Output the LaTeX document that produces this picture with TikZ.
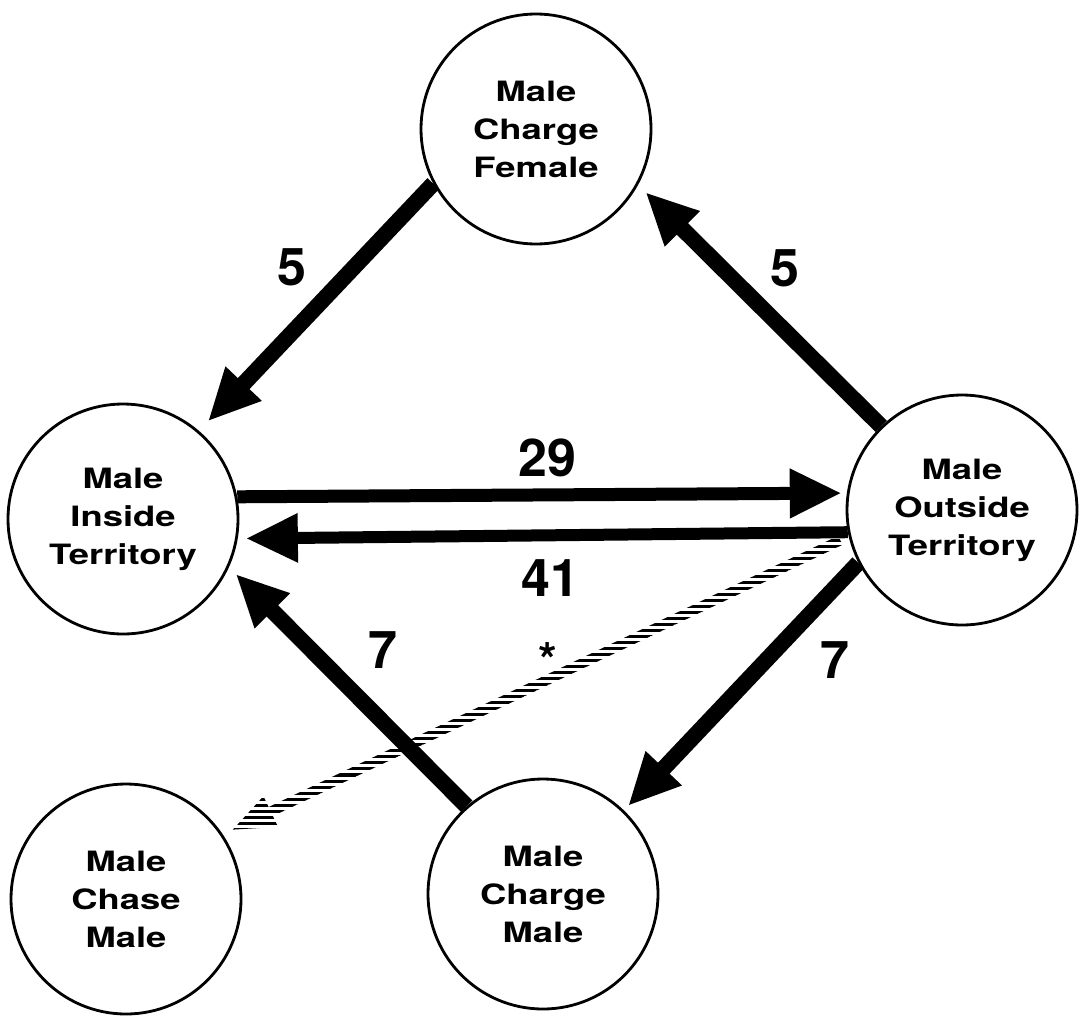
\documentclass[tikz,border=0pt]{standalone}
\usepackage{fontspec}
\setmainfont{TeX Gyre Heros}
\newfontfamily\statefont[FakeStretch=1.3]{TeX Gyre Heros}
\newfontfamily\countfont{TeX Gyre Heros}
\usetikzlibrary{arrows.meta,calc,patterns.meta}

\tikzset{
  state/.style={circle, draw, line width=2.8pt, minimum size=230pt, inner sep=0pt,
    align=center, font=\statefont\bfseries\fontsize{28}{38}\selectfont},
  flow/.style={line width=16pt, -{Triangle[length=52pt,width=46pt]}},
  count/.style={font=\countfont\bfseries\fontsize{52}{52}\selectfont, inner sep=0pt},
  hatch/.style={pattern={Lines[angle=0,distance=6pt,line width=3pt]}, pattern color=black}
}

\begin{document}
\begin{tikzpicture}[x=1pt,y=-1pt]
  \useasboundingbox (0,0) rectangle (1081,1015);

  % behavioural states
  \node[state] (T) at (536,129) {Male\\Charge\\Female};
  \node[state] (L) at (123,519) {Male\\Inside\\Territory};
  \node[state] (R) at (962,510) {Male\\Outside\\Territory};
  \node[state] (B) at (543,894) {Male\\Charge\\Male};
  \node[state] (C) at (126,899) {Male\\Chase\\Male};

  % transitions
  \draw[flow] (T.208.6) -- ($(L.49)!-13pt!(L.center)$);
  \draw[flow] (R.134.7) -- ($(T.330.8)!-10pt!(T.center)$);
  \draw[flow, line width=13pt] (L.11.5) -- ($(R.172.8)!-5pt!(R.center)$);
  \draw[flow, line width=12pt] (R.191.4) -- ($(L.351.6)!-8pt!(L.center)$);
  \draw[flow] (R.207) -- ($(B.46)!-6pt!(B.center)$);
  \draw[flow] (B.131) -- ($(L.334.3)!-9pt!(L.center)$);

  % hatched transition towards chasing
  \coordinate (hs) at ($(R.194)!-9pt!(R.center)$);
  \coordinate (he) at ($(C.33)!-11pt!(C.center)$);
  \coordinate (hh) at ($(he)!42pt!(hs)$);
  \fill[hatch] ($(hs)!5pt!90:(he)$) -- ($(hh)!5pt!90:(he)$) -- ($(hh)!17pt!90:(he)$)
    -- (he) -- ($(hh)!17pt!-90:(he)$) -- ($(hh)!5pt!-90:(he)$)
    -- ($(hs)!5pt!-90:(he)$) -- cycle;

  % transition counts
  \node[count] (n1) at (292,267) {5};
  \node[count] (n2) at (785,268) {5};
  \node[count] (n3) at (547,458) {29};
  \node[count] (n4) at (550,578) {41};
  \node[count] (n5) at (383,650) {7};
  \node[count] (n6) at (835,660) {7};
  \node[font=\countfont\bfseries\fontsize{48}{48}\selectfont, inner sep=0pt] (st) at (548,660) {*};
\end{tikzpicture}
\end{document}
